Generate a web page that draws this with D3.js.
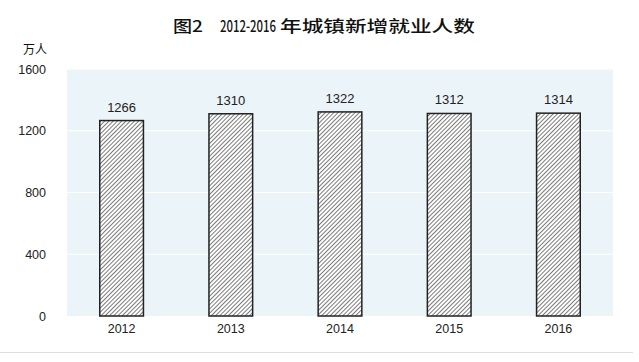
<!DOCTYPE html>
<html lang="zh">
<head>
<meta charset="UTF-8">
<script src="https://cdn.jsdelivr.net/npm/d3@7"></script>
<style>
  body { margin: 0; background: #fff; }
  .tick text { font-family: "Liberation Sans", Arial, sans-serif; font-size: 12.5px; fill: #222; }
  .ttl { font-family: "Noto Sans CJK SC", sans-serif; font-weight: 500; font-size: 16px; fill: #111; }
</style>
</head>
<body>
<svg></svg>
<script>
var years = ["2012", "2013", "2014", "2015", "2016"];
var values = [1266, 1310, 1322, 1312, 1314];
var yTicks = [0, 400, 800, 1200, 1600];

var W = 639, H = 362;
var margin = {top: 69, right: 26, bottom: 46, left: 67};
var width = W - margin.left - margin.right,
    height = H - margin.top - margin.bottom;

var svg = d3.select("svg").attr("width", W).attr("height", H);

// hatch pattern for the bars
var pat = svg.append("defs").append("pattern")
  .attr("id", "hatch")
  .attr("patternUnits", "userSpaceOnUse")
  .attr("width", 3).attr("height", 3)
  .attr("patternTransform", "rotate(45)");
pat.append("rect").attr("width", 3).attr("height", 3).attr("fill", "#fff");
pat.append("line").attr("x1", 0).attr("y1", 0).attr("x2", 0).attr("y2", 3)
  .attr("stroke", "#333").attr("stroke-width", 1.3);

// title pieces, stretched/squeezed horizontally like the original
var titleParts = [
  {x: 173, len: 30, s: "图2"},
  {x: 220, len: 56, s: "2012-2016"},
  {x: 280, len: 195, s: "年城镇新增就业人数"}
];
svg.selectAll(".ttl").data(titleParts).enter().append("text")
  .attr("class", "ttl")
  .text(function(d){ return d.s; })
  .attr("transform", function(d){
    var w = this.getComputedTextLength();
    return "translate(" + d.x + ",32) scale(" + (d.len / w) + ",1)";
  });

svg.append("text")
  .attr("x", 23).attr("y", 54)
  .style("font-family", "'Noto Sans CJK SC', sans-serif")
  .style("font-size", "12px")
  .attr("fill", "#111")
  .text("万人");

var x = d3.scaleBand().domain(years).range([0, width]).paddingInner(0.6).paddingOuter(0.3);
var y = d3.scaleLinear().domain([0, 1600]).range([height, 0]);

var inner = svg.append("g").attr("transform", "translate(" + margin.left + "," + margin.top + ")");

inner.append("rect").attr("width", width).attr("height", height).attr("fill", "#ebf4f8");

// white gridlines
inner.append("g").selectAll("line").data(yTicks.slice(1)).enter().append("line")
  .attr("x1", 0).attr("x2", width)
  .attr("y1", function(d){ return y(d); }).attr("y2", function(d){ return y(d); })
  .attr("stroke", "#fff").attr("stroke-width", 1);

var yAxis = d3.axisLeft(y).tickValues(yTicks).tickFormat(d3.format("d")).tickSize(0).tickPadding(21);
inner.append("g").call(yAxis).call(function(g){ g.select(".domain").remove(); });

var xAxis = d3.axisBottom(x).tickSize(0).tickPadding(8);
inner.append("g").attr("transform", "translate(0," + height + ")").call(xAxis)
  .call(function(g){ g.select(".domain").remove(); });

var bar = inner.selectAll(".bar").data(values).enter().append("g");
bar.append("rect")
  .attr("x", function(d, i){ return x(years[i]); })
  .attr("y", function(d){ return y(d); })
  .attr("width", x.bandwidth())
  .attr("height", function(d){ return height - y(d); })
  .attr("fill", "url(#hatch)")
  .attr("stroke", "#222").attr("stroke-width", 1.5);
bar.append("text")
  .attr("x", function(d, i){ return x(years[i]) + x.bandwidth() / 2; })
  .attr("y", function(d){ return y(d) - 9; })
  .attr("text-anchor", "middle")
  .style("font-family", "'Liberation Sans', Arial, sans-serif")
  .style("font-size", "13px")
  .attr("fill", "#222")
  .text(function(d){ return d; });

svg.append("line").attr("x1", 0).attr("x2", 633).attr("y1", 352.5).attr("y2", 352.5)
  .attr("stroke", "#ddd").attr("stroke-width", 1);
</script>
</body>
</html>
